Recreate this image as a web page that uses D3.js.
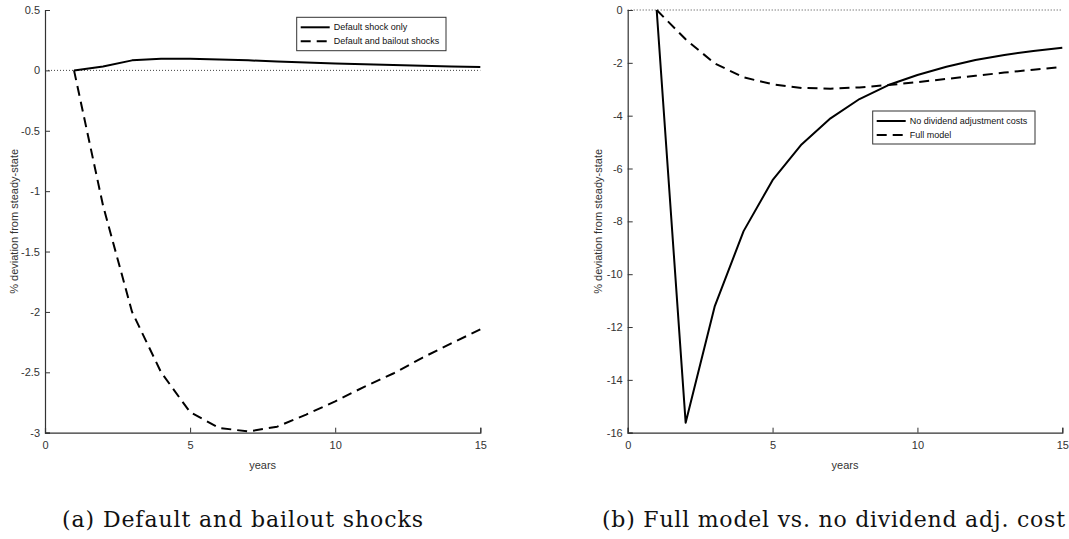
<!DOCTYPE html>
<html>
<head>
<meta charset="utf-8">
<script src="https://cdn.jsdelivr.net/npm/d3@7"></script>
<style>
  html, body { margin: 0; padding: 0; background: #fff; }
  svg { display: block; }
  .tick text { font-family: "Liberation Sans", Arial, sans-serif; }
</style>
</head>
<body>
<svg id="chart" width="1069" height="539"></svg>
<script>
// Impulse responses, % deviation from steady state, by year
const years = [1, 2, 3, 4, 5, 6, 7, 8, 9, 10, 11, 12, 13, 14, 15];

// Panel (a)
const defaultShockOnly = [0, 0.033, 0.083, 0.097, 0.097, 0.091, 0.083, 0.074, 0.066, 0.058, 0.050, 0.044, 0.039, 0.033, 0.028];
const defaultAndBailout = [0, -1.12, -2.00, -2.50, -2.83, -2.96, -2.99, -2.95, -2.85, -2.74, -2.62, -2.51, -2.38, -2.26, -2.145];

// Panel (b)
const noDividendAdjCosts = [0, -15.62, -11.23, -8.37, -6.44, -5.09, -4.10, -3.37, -2.84, -2.46, -2.15, -1.89, -1.70, -1.55, -1.43];
const fullModel = [0, -1.11, -2.02, -2.55, -2.81, -2.95, -2.98, -2.93, -2.84, -2.73, -2.61, -2.49, -2.37, -2.26, -2.15];

const xTicks = [0, 5, 10, 15];
const yTicksA = [0.5, 0, -0.5, -1, -1.5, -2, -2.5, -3];
const yTicksB = [0, -2, -4, -6, -8, -10, -12, -14, -16];

const legendA = ["Default shock only", "Default and bailout shocks"];
const legendB = ["No dividend adjustment costs", "Full model"];
const captions = ["(a) Default and bailout shocks", "(b) Full model vs. no dividend adj. cost"];

const svg = d3.select("#chart");
const axisColor = "#333";
const textColor = "#333";
const dashPattern = "10,6";

function panel(opt) {
  const g = svg.append("g");
  const x = d3.scaleLinear().domain([0, 15]).range([opt.left, opt.right]);
  const y = d3.scaleLinear().domain(opt.yDomain).range([opt.bottom, opt.top]);

  // zero reference line
  g.append("line")
    .attr("x1", x(0)).attr("x2", x(15))
    .attr("y1", y(0)).attr("y2", y(0))
    .attr("stroke", "#444").attr("stroke-width", 1)
    .attr("stroke-dasharray", "1,2");

  // axes with inward ticks
  const xAxis = g.append("g")
    .attr("transform", `translate(0,${opt.bottom})`)
    .call(d3.axisBottom(x).tickValues(xTicks).tickSize(-5).tickPadding(9).tickFormat(d3.format("d")));
  const yAxis = g.append("g")
    .attr("transform", `translate(${opt.left},0)`)
    .call(d3.axisLeft(y).tickValues(opt.yTicks).tickSize(-5).tickPadding(5).tickFormat(d => String(d)));
  [xAxis, yAxis].forEach(a => {
    a.select(".domain").attr("stroke", axisColor).attr("stroke-width", 1.2);
    a.selectAll(".tick line").attr("stroke", axisColor);
    a.selectAll(".tick text").attr("fill", textColor).attr("font-size", 11);
  });

  // axis titles
  g.append("text")
    .attr("x", (opt.left + opt.right) / 2).attr("y", opt.bottom + 36)
    .attr("text-anchor", "middle")
    .attr("font-family", "Liberation Sans, Arial, sans-serif")
    .attr("font-size", 11).attr("fill", textColor)
    .text("years");
  g.append("text")
    .attr("transform", `translate(${opt.ylabelX},${(opt.top + opt.bottom) / 2}) rotate(-90)`)
    .attr("text-anchor", "middle")
    .attr("dy", "0.35em")
    .attr("font-family", "Liberation Sans, Arial, sans-serif")
    .attr("font-size", 11).attr("fill", textColor)
    .text("% deviation from steady-state");

  // series
  const line = d3.line().x((d, i) => x(years[i])).y(d => y(d));
  opt.series.forEach(s => {
    g.append("path")
      .datum(s.values)
      .attr("d", line)
      .attr("fill", "none")
      .attr("stroke", "#000")
      .attr("stroke-width", 2)
      .attr("stroke-linejoin", "round")
      .attr("stroke-dasharray", s.dashed ? dashPattern : null);
  });

  // legend
  const lg = opt.legend;
  const lgG = g.append("g");
  lgG.append("rect")
    .attr("x", lg.x).attr("y", lg.y).attr("width", lg.w).attr("height", lg.h)
    .attr("fill", "#fff").attr("stroke", "#333").attr("stroke-width", 1);
  opt.series.forEach((s, i) => {
    const cy = lg.y + 10 + i * 14;
    lgG.append("line")
      .attr("x1", lg.x + 4).attr("x2", lg.x + 33)
      .attr("y1", cy).attr("y2", cy)
      .attr("stroke", "#000").attr("stroke-width", 2)
      .attr("stroke-dasharray", s.dashed ? dashPattern : null);
    lgG.append("text")
      .attr("x", lg.x + 37).attr("y", cy).attr("dy", "0.35em")
      .attr("font-family", "Liberation Sans, Arial, sans-serif")
      .attr("font-size", 9).attr("fill", "#111")
      .text(s.name);
  });

  // caption, set wide like a LaTeX subfigure label
  g.append("text")
    .attr("x", opt.caption.x).attr("y", 527)
    .attr("font-family", "DejaVu Serif, serif")
    .attr("font-size", 22).attr("fill", "#111")
    .attr("textLength", opt.caption.width)
    .attr("lengthAdjust", "spacing")
    .text(opt.caption.text);
}

panel({
  left: 45, right: 480.3, top: 10, bottom: 432.7,
  yDomain: [-3, 0.5], yTicks: yTicksA, ylabelX: 14,
  series: [
    { name: legendA[0], values: defaultShockOnly, dashed: false },
    { name: legendA[1], values: defaultAndBailout, dashed: true }
  ],
  legend: { x: 296.7, y: 17.3, w: 149.3, h: 33.4 },
  caption: { x: 62, width: 361, text: captions[0] }
});

panel({
  left: 627.7, right: 1062.3, top: 10, bottom: 432.7,
  yDomain: [-16, 0], yTicks: yTicksB, ylabelX: 598,
  series: [
    { name: legendB[0], values: noDividendAdjCosts, dashed: false },
    { name: legendB[1], values: fullModel, dashed: true }
  ],
  legend: { x: 872.7, y: 111, w: 162.3, h: 33 },
  caption: { x: 602, width: 463, text: captions[1] }
});
</script>
</body>
</html>
